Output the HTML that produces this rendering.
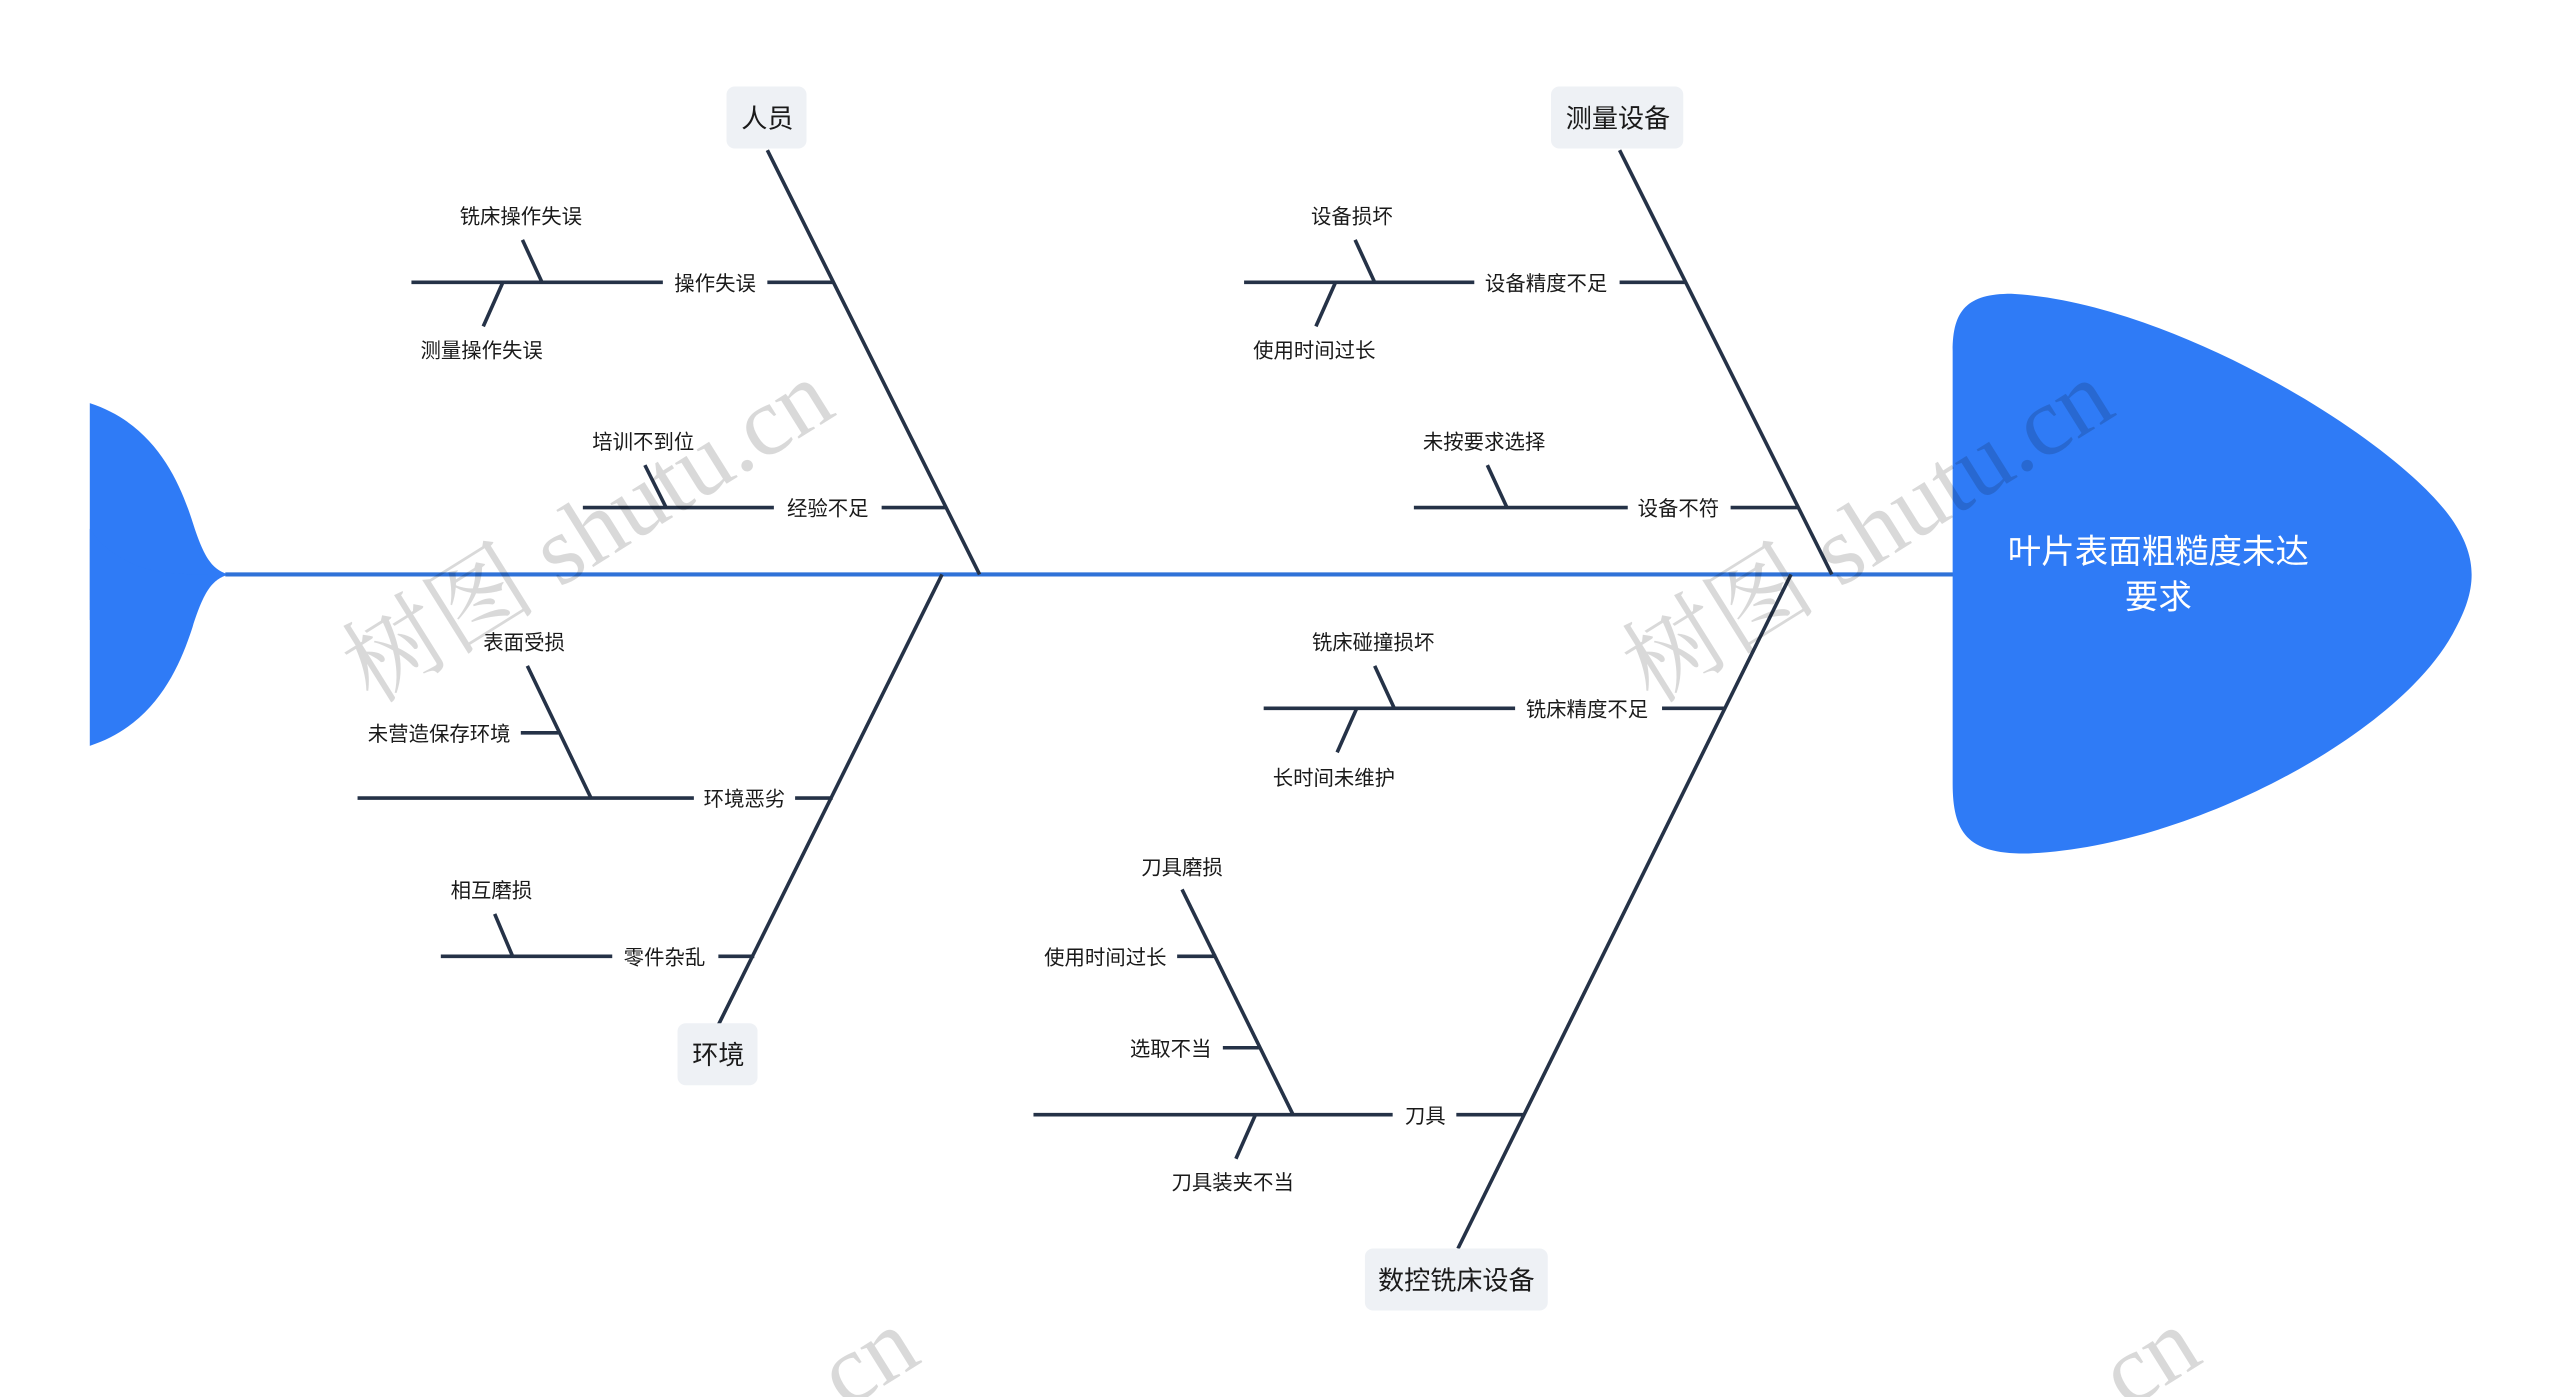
<!DOCTYPE html>
<html><head><meta charset="utf-8"><style>
html,body{margin:0;padding:0;background:#fff;}
svg{display:block;}
text{font-family:"Liberation Sans","Noto Sans CJK SC",sans-serif;}
text.wm{font-family:"Liberation Serif","Noto Serif CJK SC",serif;}
</style></head><body>
<svg width="2560" height="1397" viewBox="0 0 1568 856" preserveAspectRatio="none" xmlns="http://www.w3.org/2000/svg">
<rect width="1568" height="856" fill="#fff"/>
<path d="M55,247 C95,260 110,295 118,320 C125,342 130,349 140,352 C118,352 100,352 88,356 C70,362 60,372 55,380 Z" fill="#2f7bf6"/>
<path d="M55,457 C95,444 110,409 118,384 C125,362 130,355 140,352 C118,352 100,352 88,348 C70,342 60,332 55,324 Z" fill="#2f7bf6"/>
<line x1="138" y1="352" x2="1200" y2="352" stroke="#2f72d8" stroke-width="2.5"/>
<path d="M1232,180 C1330,185 1470,270 1503,320 C1518,343 1517,362 1503,387 C1470,450 1340,520 1240,523 C1205,523 1196,510 1196,480 L1196,215 C1196,190 1205,180 1232,180 Z" fill="#2f7bf6"/>
<text x="1322" y="345" font-size="20.5" fill="#fff" text-anchor="middle">叶片表面粗糙度未达</text>
<text x="1322" y="373" font-size="20.5" fill="#fff" text-anchor="middle">要求</text>

<g stroke="#253247" stroke-width="2.2" fill="none">
<line x1="470" y1="92" x2="600" y2="352"/>
<line x1="470" y1="173" x2="511" y2="173"/>
<line x1="252" y1="173" x2="406" y2="173"/>
<line x1="320" y1="147" x2="332" y2="173"/>
<line x1="308" y1="173" x2="296" y2="200"/>
<line x1="540" y1="311" x2="580" y2="311"/>
<line x1="357" y1="311" x2="474" y2="311"/>
<line x1="395" y1="285" x2="408" y2="311"/>
<line x1="992" y1="92" x2="1122" y2="352"/>
<line x1="992" y1="173" x2="1033" y2="173"/>
<line x1="762" y1="173" x2="903" y2="173"/>
<line x1="830" y1="147" x2="842" y2="173"/>
<line x1="818" y1="173" x2="806" y2="200"/>
<line x1="1060" y1="311" x2="1102" y2="311"/>
<line x1="866" y1="311" x2="997" y2="311"/>
<line x1="911" y1="285" x2="923" y2="311"/>
<line x1="577" y1="352" x2="440" y2="628"/>
<line x1="487" y1="489" x2="510" y2="489"/>
<line x1="219" y1="489" x2="425" y2="489"/>
<line x1="323" y1="408" x2="362" y2="489"/>
<line x1="319" y1="449" x2="342" y2="449"/>
<line x1="440" y1="586" x2="462" y2="586"/>
<line x1="270" y1="586" x2="375" y2="586"/>
<line x1="303" y1="560" x2="314" y2="586"/>
<line x1="1097" y1="352" x2="893" y2="765"/>
<line x1="1018" y1="434" x2="1057" y2="434"/>
<line x1="774" y1="434" x2="928" y2="434"/>
<line x1="842" y1="408" x2="854" y2="434"/>
<line x1="831" y1="434" x2="819" y2="461"/>
<line x1="892" y1="683" x2="934" y2="683"/>
<line x1="633" y1="683" x2="853" y2="683"/>
<line x1="724" y1="545" x2="792" y2="683"/>
<line x1="721" y1="586" x2="745" y2="586"/>
<line x1="749" y1="642" x2="772" y2="642"/>
<line x1="769" y1="683" x2="757" y2="710"/>
</g>

<g fill="#eef1f5">
<rect x="445" y="53" width="49" height="38" rx="5"/>
<rect x="950" y="53" width="81" height="38" rx="5"/>
<rect x="415" y="627" width="49" height="38" rx="5"/>
<rect x="836" y="765" width="112" height="38" rx="5"/>
</g>
<g font-size="16" fill="#1a1a1a" text-anchor="middle">
<text x="470" y="78">人员</text>
<text x="991" y="78">测量设备</text>
<text x="440" y="652">环境</text>
<text x="892" y="790">数控铣床设备</text>
</g>
<g font-size="12.5" fill="#1a1a1a" text-anchor="middle">
<text x="438" y="178">操作失误</text>
<text x="319" y="137">铣床操作失误</text>
<text x="295" y="219">测量操作失误</text>
<text x="507" y="316">经验不足</text>
<text x="394" y="275">培训不到位</text>
<text x="947" y="178">设备精度不足</text>
<text x="828" y="137">设备损坏</text>
<text x="805" y="219">使用时间过长</text>
<text x="1028" y="316">设备不符</text>
<text x="909" y="275">未按要求选择</text>
<text x="456" y="494">环境恶劣</text>
<text x="321" y="398">表面受损</text>
<text x="269" y="454">未营造保存环境</text>
<text x="407" y="591">零件杂乱</text>
<text x="301" y="550">相互磨损</text>
<text x="972" y="439">铣床精度不足</text>
<text x="841" y="398">铣床碰撞损坏</text>
<text x="817" y="481">长时间未维护</text>
<text x="873" y="688">刀具</text>
<text x="724" y="536">刀具磨损</text>
<text x="677" y="591">使用时间过长</text>
<text x="717" y="647">选取不当</text>
<text x="755" y="729">刀具装夹不当</text>
</g>
<g font-size="60" fill="#000" fill-opacity="0.15">
<text class="wm" x="0" y="0" transform="translate(228,432) rotate(-32)">树图 shutu.cn</text>
<text class="wm" x="0" y="0" transform="translate(1012,432) rotate(-32)">树图 shutu.cn</text>
<text class="wm" x="0" y="0" transform="translate(505,872) rotate(-32)">.cn</text>
<text class="wm" x="0" y="0" transform="translate(1290,872) rotate(-32)">.cn</text>
</g>
</svg>
</body></html>
